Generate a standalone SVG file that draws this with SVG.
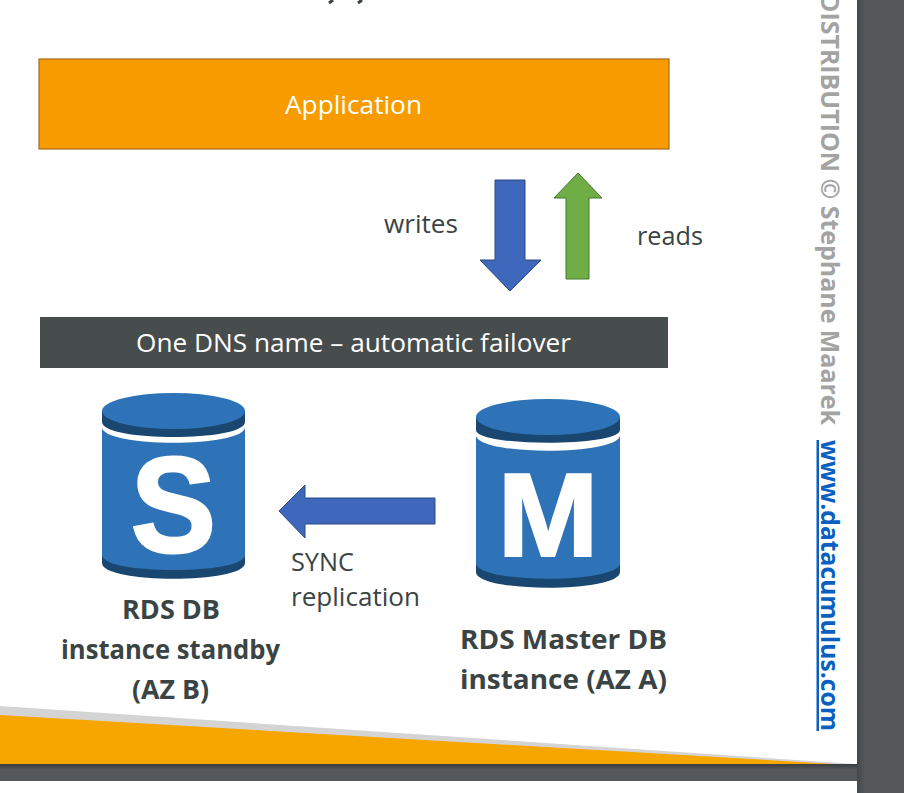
<svg xmlns="http://www.w3.org/2000/svg" width="904" height="793" viewBox="0 0 904 793">
<defs>
<linearGradient id="sr" x1="0" x2="1" y1="0" y2="0"><stop offset="0" stop-color="#44484a"/><stop offset="1" stop-color="#54585a"/></linearGradient>
<linearGradient id="sb" x1="0" x2="0" y1="0" y2="1"><stop offset="0" stop-color="#3a3e40"/><stop offset="1" stop-color="#54585a"/></linearGradient>
</defs>
<style>
text{font-family:"Open Sans","Liberation Sans",sans-serif;fill:#3a4444}
.l{font-size:26px}
.b{font-size:27px;font-weight:700}
.w{fill:#fff;font-size:26px}
.g{font-family:"Liberation Sans",sans-serif;font-weight:700;fill:#fff;stroke:#fff;text-anchor:middle}
.side{font-size:25px;font-weight:700}
.body{fill:#2e73b8}.dark{fill:#1a476f}
.arrow{fill:#3f68bd;stroke:#2a4a85;stroke-width:1}
</style>
<rect width="904" height="793" fill="#54585a"/>
<rect x="857" y="0" width="8" height="793" fill="url(#sr)"/>
<rect x="0" y="764" width="857" height="6" fill="url(#sb)"/>
<rect x="0" y="0" width="857" height="764" fill="#fff"/>
<rect x="0" y="781" width="857" height="12" fill="#fff"/>
<g id="footer">
<polygon points="0,706 855,764 0,764" fill="#d4d4d4"/>
<polygon points="0,715 835,764 0,764" fill="#f7a600"/>
</g>
<path d="M329 3 L333 0 M358 3 L362 0" stroke="#3a4444" stroke-width="3" fill="none"/>
<g id="application">
<rect x="39" y="59" width="630" height="90" fill="#f79b00" stroke="#a8691a" stroke-width="1.2"/>
<text class="w" x="285" y="114" textLength="137" lengthAdjust="spacingAndGlyphs">Application</text>
</g>
<g id="dns">
<rect x="40" y="317" width="628" height="51" fill="#474c4c"/>
<text class="w" x="136" y="352" textLength="435" lengthAdjust="spacingAndGlyphs">One DNS name – automatic failover</text>
</g>
<g id="connectors">
<polygon class="arrow" points="495,180 525,180 525,260 541,260 510,291 480,260 495,260"/>
<polygon points="566,279 589,279 589,198 602,198 578,173 554,198 566,198" fill="#70ad47" stroke="#3f7a2c" stroke-width="1"/>
<polygon class="arrow" points="435,498 435,524 305,524 305,538 279,511 305,485 305,498"/>
</g>
<g id="labels">
<text class="l" x="384" y="233" textLength="74" lengthAdjust="spacingAndGlyphs">writes</text>
<text class="l" x="637" y="245" textLength="66" lengthAdjust="spacingAndGlyphs">reads</text>
<text class="l" x="291" y="571" textLength="63" lengthAdjust="spacingAndGlyphs">SYNC</text>
<text class="l" x="291" y="606" textLength="129" lengthAdjust="spacingAndGlyphs">replication</text>
</g>
<g id="standby">
<path class="dark" d="M102 550 V563 C102 584 245 584 245 563 V550 Z"/>
<path class="body" d="M102 427 C102 448 245 448 245 427 V555 C245 575 102 575 102 555 Z"/>
<path class="dark" d="M102 411 V422 C102 442 245 442 245 422 V411 Z"/>
<ellipse class="body" cx="173.500" cy="411" rx="71.500" ry="18"/>
<text class="g" transform="translate(173.500 552) scale(.935 1)" font-size="136" stroke-width="3">S</text>
<text class="b" x="122" y="619" textLength="98" lengthAdjust="spacingAndGlyphs">RDS DB</text>
<text class="b" x="61" y="659" textLength="219" lengthAdjust="spacingAndGlyphs">instance standby</text>
<text class="b" x="132" y="699" textLength="77" lengthAdjust="spacingAndGlyphs">(AZ B)</text>
</g>
<g id="master">
<path class="dark" d="M476 558 V572 C476 593 620 593 620 572 V558 Z"/>
<path class="body" d="M476 435 C476 456 620 456 620 435 V563 C620 584 476 584 476 563 Z"/>
<path class="dark" d="M476 417 V430 C476 447 620 447 620 430 V417 Z"/>
<ellipse class="body" cx="548" cy="417" rx="72" ry="18"/>
<text class="g" transform="translate(548 556) scale(1.02 1)" font-size="119" stroke-width="2">M</text>
<text class="b" x="460" y="649" textLength="207" lengthAdjust="spacingAndGlyphs">RDS Master DB</text>
<text class="b" x="460" y="689" textLength="207" lengthAdjust="spacingAndGlyphs">instance (AZ A)</text>
</g>
<g id="side">
<text class="side" transform="translate(821 -6) rotate(90)" style="fill:#a3a3a3" textLength="431" lengthAdjust="spacingAndGlyphs">DISTRIBUTION © Stephane Maarek</text>
<text class="side" transform="translate(821 440) rotate(90)" style="fill:#0b5fc0;text-decoration:underline" textLength="291" lengthAdjust="spacingAndGlyphs">www.datacumulus.com</text>
</g>
</svg>
